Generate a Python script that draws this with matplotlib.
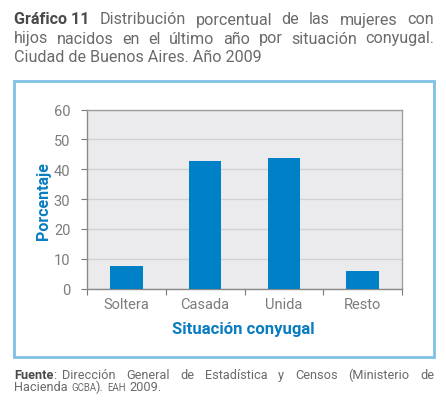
import matplotlib.pyplot as plt
from matplotlib.patches import Rectangle

# data
categorias = ['Soltera', 'Casada', 'Unida', 'Resto']
porcentajes = [7.7, 42.7, 43.6, 6.0]
yticks = [0, 10, 20, 30, 40, 50, 60]

plt.rcParams['font.family'] = ['Roboto', 'DejaVu Sans']

W, H = 446, 406
fig = plt.figure(figsize=(W / 100, H / 100), dpi=100)
fig.patch.set_facecolor('white')

def fx(px):
    return px / W

def fy(py):
    return 1 - py / H

gris_txt = '#6a6a6a'
gris_tick = '#7c7c7c'
azul = '#0a7dc2'

# plot area
ax = fig.add_axes([fx(87), fy(289.5), fx(402) - fx(87), fy(110.5) - fy(289.5)])
ax.set_facecolor('#ebebed')
x = range(len(categorias))
ax.bar(x, porcentajes, width=0.41, color='#0080c6', zorder=3)
ax.set_xlim(-0.5, len(categorias) - 0.5)
ax.set_ylim(0, 60)
ax.set_yticks(yticks)
ax.set_yticklabels([str(v) for v in yticks])
ax.yaxis.grid(True, color='#d2d2d4', linewidth=1, zorder=0)
ax.set_xticks([i - 0.5 for i in range(len(categorias) + 1)], minor=False)
ax.set_xticklabels([])
ax.set_xticks(list(x), minor=True)
ax.set_xticklabels(categorias, minor=True)
ax.tick_params(axis='x', which='major', length=4, color='#7a7a7a', direction='out')
ax.tick_params(axis='x', which='minor', length=0, labelsize=10.5, labelcolor=gris_tick, pad=6)
ax.tick_params(axis='y', length=4, color='#7a7a7a', labelsize=10.5, labelcolor=gris_tick, pad=8)
for s in ax.spines.values():
    s.set_color('#8a8a8a')
    s.set_linewidth(1)
ax.spines['top'].set_color('#a0a0a0')
ax.spines['right'].set_color('#a0a0a0')

fig.text(fx(43), fy(201), 'Porcentaje', rotation=90, ha='center', va='center',
         fontsize=11.5, fontweight='bold', color=azul)
fig.text(fx(243), fy(330), 'Situación conyugal', ha='center', va='center',
         fontsize=12, fontweight='bold', color=azul)

# blue frame
fig.patches.append(Rectangle((fx(14), fy(358)), fx(434) - fx(14), fy(82) - fy(358),
                             transform=fig.transFigure, fill=False,
                             edgecolor='#7fc0e4', linewidth=2))

renderer = fig.canvas.get_renderer()

def linea(partes, y, x0, x1=None, size=11):
    # partes: list of (text, weight, size factor, gap after); justified when x1 is given
    objs = []
    for txt, peso, fac, _ in partes:
        t = fig.text(0, fy(y), txt, fontsize=size * fac, fontweight=peso,
                     color=gris_txt if peso == 'normal' else '#4a4a4a', va='baseline')
        objs.append(t)
    anchos = [o.get_window_extent(renderer).width for o in objs]
    if x1 is None:
        pos = x0
        for o, w, p in zip(objs, anchos, partes):
            o.set_x(fx(pos))
            pos += w + p[3]
    else:
        gap = (x1 - x0 - sum(anchos)) / (len(objs) - 1)
        pos = x0
        for o, w in zip(objs, anchos):
            o.set_x(fx(pos))
            pos += w + gap

ts = 11.6
t1 = [('Gráfico 11', 'bold', 1, 0)] + [(w, 'normal', 1, 0) for w in
      'Distribución porcentual de las mujeres con'.split()]
linea(t1, 24.5, 14, 434, size=ts)
linea([(w, 'normal', 1, 0) for w in
       'hijos nacidos en el último año por situación conyugal.'.split()], 43.5, 14, 434, size=ts)
linea([('Ciudad de Buenos Aires. Año 2009', 'normal', 1, 0)], 62.5, 14, size=ts)

fs = 9.2
linea([('Fuente', 'bold', 1, 0), (':', 'normal', 1, 0)], 379, 14, size=fs)
resto = 'Dirección General de Estadística y Censos (Ministerio de'.split()
# words of footer line 1 after "Fuente:" justified to the right edge
tmp = fig.text(0, 0, 'Fuente:', fontsize=fs, fontweight='bold')
wf = tmp.get_window_extent(renderer).width
tmp.remove()
linea([(w, 'normal', 1, 0) for w in resto], 379, 14 + wf + 5, 434, size=fs)
linea([('Hacienda', 'normal', 1, 3.5), ('GCBA', 'normal', 0.75, 0), (').', 'normal', 1, 3.5),
       ('EAH', 'normal', 0.75, 3.5), ('2009.', 'normal', 1, 0)], 391, 14, size=fs)

fig.savefig('out.png', dpi=100)
